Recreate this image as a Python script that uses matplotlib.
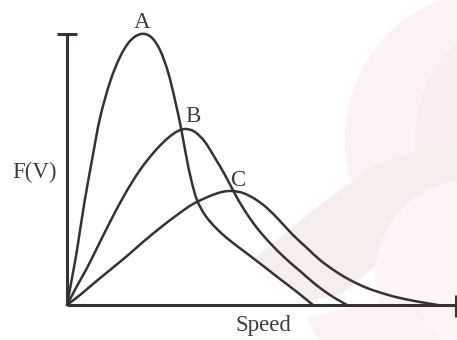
import matplotlib
matplotlib.use("Agg")
import matplotlib.pyplot as plt
from matplotlib.patches import Ellipse, Circle, Polygon, PathPatch
from matplotlib.path import Path
import numpy as np

# Curve data (speed, F(V))
speed_A = [0, 5, 10, 17, 25, 33, 43, 53, 63, 74, 84, 93, 101, 108, 114, 119, 124, 130, 138, 148, 161, 178, 195, 213, 230, 246]
f_A     = [0, 27, 55, 100, 145, 187, 223, 248, 264, 271, 268, 255, 233, 205, 177, 150, 126, 105, 90, 78, 66, 53, 40, 26, 13, 0]

speed_B = [0, 10, 20, 30, 43, 58, 73, 88, 101, 111, 119, 128, 138, 148, 158, 168, 178, 190, 203, 218, 233, 248, 263, 273, 280]
f_B     = [0, 19, 37, 57, 83, 111, 135, 154, 167, 174, 176, 173, 163, 147, 130, 111, 94, 77, 62, 47, 34, 21, 10, 4, 0]

speed_C = [0, 13, 26, 43, 60, 76, 93, 110, 126, 143, 155, 165, 176, 188, 200, 213, 226, 240, 253, 268, 283, 300, 318, 333, 353, 371]
f_C     = [0, 10, 21, 35, 49, 63, 77, 90, 101, 109, 113, 114, 112, 106, 97, 84, 70, 57, 45, 34, 25, 17, 11, 7, 3, 0]

labels = ["A", "B", "C"]
label_pos_speed = [75, 126, 171]
label_pos_f = [283, 188, 125]

W, H = 457, 340
fig = plt.figure(figsize=(W / 100, H / 100), dpi=100)
fig.patch.set_facecolor("white")

# faint watermark (background decoration) in pixel coordinates
bg = fig.add_axes([0, 0, 1, 1])
bg.set_xlim(0, W)
bg.set_ylim(H, 0)
bg.axis("off")
bg.add_patch(Ellipse((480, 140), 270, 290, color="#fcf1f3", lw=0))
bg.add_patch(Ellipse((500, 140), 170, 220, color="#fbecef", lw=0))
bg.add_patch(Polygon([[255, 258], [320, 205], [375, 165], [420, 150], [457, 148], [457, 228],
                      [420, 238], [380, 262], [340, 295], [310, 300]], closed=True,
                     color="#f6eeec", lw=0))
bg.add_patch(Circle((470, 275), 95, color="#fdf5f7", lw=0))
bg.add_patch(Polygon([[305, 318], [360, 305], [420, 310], [440, 340], [320, 340]],
                     closed=True, color="#fcf2f5", lw=0))

ax = fig.add_axes([0, 0, 1, 1])
ax.patch.set_alpha(0)
ax.set_xlim(-67, W - 67)
ax.set_ylim(305 - H, 305)
ax.axis("off")

lc = "#363232"
lw = 1.8


def smooth_path(xs, ys):
    pts = np.column_stack([xs, ys]).astype(float)
    ext = np.vstack([pts[0], pts, pts[-1]])
    verts = [pts[0]]
    codes = [Path.MOVETO]
    for i in range(1, len(ext) - 2):
        p0, p1, p2, p3 = ext[i - 1], ext[i], ext[i + 1], ext[i + 2]
        verts += [p1 + (p2 - p0) / 6.0, p2 - (p3 - p1) / 6.0, p2]
        codes += [Path.CURVE4] * 3
    return Path(verts, codes)


for sx, fy in [(speed_A, f_A), (speed_B, f_B), (speed_C, f_C)]:
    ax.add_patch(PathPatch(smooth_path(sx, fy), facecolor="none", edgecolor=lc,
                           lw=lw, capstyle="round", joinstyle="round"))

# axes drawn as lines
ax.plot([0, 0], [0, 271], color=lc, lw=2.2, solid_capstyle="butt")
ax.plot([-10, 10], [271, 271], color=lc, lw=2.2, solid_capstyle="butt")
ax.plot([0, 389], [0, 0], color=lc, lw=2.2, solid_capstyle="butt")
ax.plot([389, 389], [-12, 10], color=lc, lw=2.2, solid_capstyle="butt")

font = dict(family="Liberation Serif", color="#403c3c", fontsize=16.5)
for lab, sx, fy in zip(labels, label_pos_speed, label_pos_f):
    ax.text(sx, fy, lab, ha="center", va="center", **font)
ax.text(-32, 133, "F(V)", ha="center", va="center", **font)
ax.text(196, -21, "Speed", ha="center", va="center", **font)

fig.savefig("out.png", dpi=100)
